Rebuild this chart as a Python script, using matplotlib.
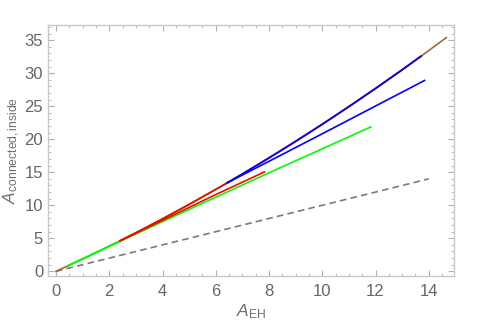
import matplotlib
matplotlib.use("Agg")
import matplotlib.pyplot as plt
from matplotlib.ticker import MultipleLocator

plt.rcParams['font.family'] = ['Liberation Sans', 'DejaVu Sans']
plt.rcParams['mathtext.fontset'] = 'custom'
plt.rcParams['mathtext.rm'] = 'Liberation Sans'
plt.rcParams['mathtext.it'] = 'Liberation Sans:italic'

# main (upper) branch
main_x = [0, 0.47, 1, 2, 2.41, 3, 4, 5, 6, 6.44, 7, 8, 9, 10, 11, 12, 13, 13.71, 14, 14.66]
main_y = [0, 0.87, 1.86, 3.81, 4.63, 5.83, 7.94, 10.13, 12.40, 13.42, 14.74, 17.17, 19.68,
          22.27, 24.94, 27.69, 30.52, 32.58, 33.44, 35.40]

# lower branches
green_lo_x = [0.47, 2, 4, 6, 8, 10, 11.82]
green_lo_y = [0.87, 3.78, 7.52, 11.22, 14.92, 18.55, 21.86]
red_lo_x = [2.41, 4, 6, 7.83]
red_lo_y = [4.63, 7.72, 11.62, 15.05]
blue_lo_x = [6.44, 8, 10, 12, 13.84]
blue_lo_y = [13.42, 16.66, 20.83, 25.03, 28.9]

# reference line
ref_x = [0, 14]
ref_y = [0, 14]

def seg(xs, ys, x0, x1):
    pts = [(x, y) for x, y in zip(xs, ys) if x0 <= x <= x1]
    return [p[0] for p in pts], [p[1] for p in pts]

fig = plt.figure(figsize=(4.8, 3.25), dpi=100)
ax = fig.add_axes([0.1, 0.151, 0.846, 0.772])

lw = 1.2
ax.plot(ref_x, ref_y, color='#7a7a7a', lw=1.2, dashes=(4, 2.5))
ax.plot(main_x, main_y, color='#a0693a', lw=lw)
gx, gy = seg(main_x, main_y, 0.47, 6.44)
ax.plot(gx, gy, color='#00ff00', lw=lw)
ax.plot(green_lo_x, green_lo_y, color='#00ff00', lw=lw)
rx, ry = seg(main_x, main_y, 2.41, 13.71)
ax.plot(rx, ry, color='#ff0000', lw=lw)
ax.plot(red_lo_x, red_lo_y, color='#ff0000', lw=lw)
bx, by = seg(main_x, main_y, 6.44, 13.71)
ax.plot(bx, by, color='#0000ff', lw=lw)
ax.plot(blue_lo_x, blue_lo_y, color='#0000ff', lw=lw)

ax.set_xlim(-0.3, 14.95)
ax.set_ylim(-0.7, 37.3)
ax.xaxis.set_major_locator(MultipleLocator(2))
ax.xaxis.set_minor_locator(MultipleLocator(0.5))
ax.yaxis.set_major_locator(MultipleLocator(5))
ax.yaxis.set_minor_locator(MultipleLocator(1))

for s in ax.spines.values():
    s.set_color('#c8c8c8')
    s.set_linewidth(1.0)
ax.tick_params(which='both', direction='in', top=True, right=True, color='#b0b0b0',
               labelcolor='#666666', labelsize=12)
ax.tick_params(which='major', length=4, width=0.8)
ax.tick_params(which='minor', length=2.5, width=0.6)
ax.tick_params(axis='x', pad=6)

ax.set_xlabel(r'$A_{\mathrm{EH}}$', color='#707070', fontsize=12.5, labelpad=2)
ax.set_ylabel(r'$A_{\mathrm{connected,inside}}$', color='#707070', fontsize=12.5, labelpad=2)

fig.savefig('out.png', dpi=100)
